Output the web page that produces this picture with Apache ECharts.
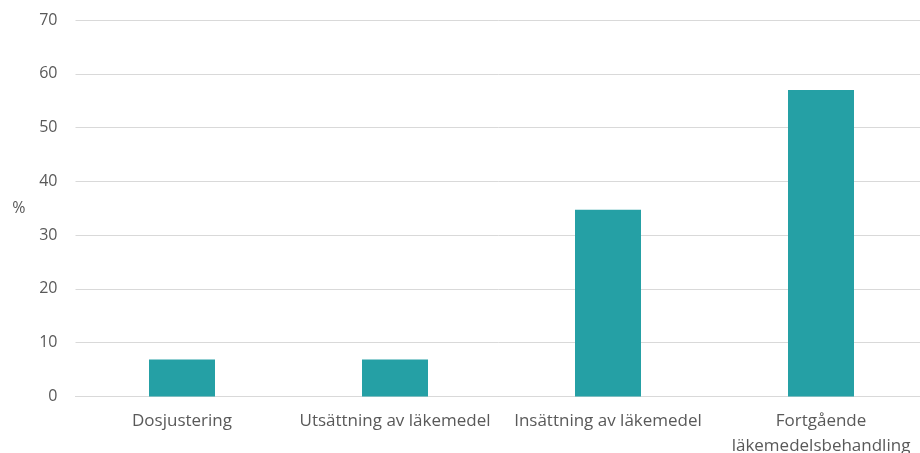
<!DOCTYPE html>
<html>
<head>
<meta charset="utf-8">
<script src="https://cdn.jsdelivr.net/npm/echarts@6/dist/echarts.min.js"></script>
<style>
  html, body { margin: 0; padding: 0; background: #fff; }
  #chart { width: 920px; height: 453px; }
</style>
</head>
<body>
<div id="chart"></div>
<script>
// Åtgärdstyper, andel i procent
const categories = ['Dosjustering', 'Utsättning av läkemedel', 'Insättning av läkemedel', 'Fortgående\nläkemedelsbehandling'];
const values = [6.9, 6.9, 34.7, 57.0];
const yTicks = [0, 10, 20, 30, 40, 50, 60, 70];

const textColor = '#595959';
const fontFamily = '"Open Sans", sans-serif';

const chart = echarts.init(document.getElementById('chart'), null, { renderer: 'canvas' });
chart.setOption({
  animation: false,
  grid: { left: 75.5, right: -7.5, top: 20, bottom: 56.5, containLabel: false, outerBoundsMode: 'none' },
  xAxis: {
    type: 'category',
    data: categories,
    axisLine: { show: true, lineStyle: { color: '#d9d9d9', width: 1 } },
    axisTick: { show: false },
    axisLabel: {
      color: textColor, fontFamily, fontSize: 17, lineHeight: 25, margin: 12, interval: 0
    }
  },
  yAxis: {
    type: 'value',
    min: yTicks[0],
    max: yTicks[yTicks.length - 1],
    interval: 10,
    name: '%',
    nameLocation: 'middle',
    nameRotate: 0,
    nameGap: 50,
    nameTextStyle: { color: textColor, fontFamily, fontSize: 16, padding: [20, 0, 0, 0] },
    axisLine: { show: false },
    axisTick: { show: false },
    axisLabel: { color: textColor, fontFamily, fontSize: 16, margin: 18 },
    splitLine: { lineStyle: { color: '#d9d9d9', width: 1 } }
  },
  series: [{
    type: 'bar',
    data: values,
    barWidth: 66,
    itemStyle: { color: '#25a0a5' }
  }]
});
</script>
</body>
</html>
